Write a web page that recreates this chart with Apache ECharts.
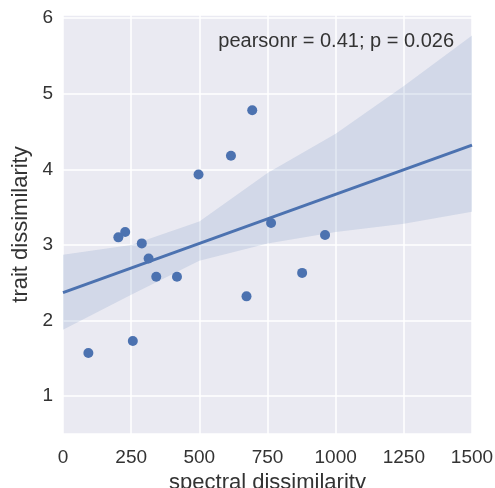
<!DOCTYPE html>
<html>
<head>
<meta charset="utf-8">
<script src="https://cdn.jsdelivr.net/npm/echarts@6/dist/echarts.min.js"></script>
<style>
  html, body { margin: 0; padding: 0; background: #fff; }
  #chart { width: 495px; height: 488px; }
</style>
</head>
<body>
<div id="chart"></div>
<script>
// scatter points
var spectral = [93, 203, 228, 256, 289, 314, 342, 418, 497, 616, 673, 694, 763, 877, 961]
var trait = [1.57, 3.10, 3.17, 1.73, 3.02, 2.82, 2.58, 2.58, 3.93, 4.18, 2.32, 4.78, 3.29, 2.63, 3.13]

// regression line ends
var fitX = [0, 1500]
var fitY = [2.37, 4.32]

// confidence band
var bandX = [0, 250, 500, 750, 1000, 1250, 1500]
var bandLow = [1.88, 2.34, 2.79, 3.02, 3.17, 3.28, 3.44]
var bandHigh = [2.87, 3.0, 3.31, 3.95, 4.47, 5.1, 5.77]

var xTicks = [0, 250, 500, 750, 1000, 1250, 1500]

var blue = '#4C72B0'
var textColor = '#333'
var font = 'Liberation Sans, Arial, sans-serif'

var chart = echarts.init(document.getElementById('chart'))

chart.setOption({
  animation: false,
  backgroundColor: '#fff',
  grid: {
    left: 63, right: 23, top: 15, bottom: 54,
    containLabel: false, outerBoundsMode: 'none',
    backgroundColor: '#EAEAF2', show: true, borderWidth: 0
  },
  xAxis: {
    type: 'value',
    min: xTicks[0],
    max: xTicks[xTicks.length - 1],
    interval: 250,
    name: 'spectral dissimilarity',
    nameLocation: 'middle',
    nameGap: 27,
    nameTextStyle: { color: textColor, fontSize: 22, fontFamily: font },
    axisLine: { show: false },
    axisTick: { show: false },
    axisLabel: { color: textColor, fontSize: 19, fontFamily: font, margin: 14, formatter: function (v) { return String(v) } },
    splitLine: { lineStyle: { color: '#fff', width: 1.5 } }
  },
  yAxis: {
    type: 'value',
    min: 0.5,
    max: 6.04,
    splitNumber: 5,
    name: 'trait dissimilarity',
    nameLocation: 'middle',
    nameGap: 28,
    nameTextStyle: { color: textColor, fontSize: 22, fontFamily: font },
    axisLine: { show: false },
    axisTick: { show: false },
    axisLabel: { color: textColor, fontSize: 19, fontFamily: font, margin: 10, showMinLabel: false, showMaxLabel: false },
    splitLine: { lineStyle: { color: '#fff', width: 1.5 } }
  },
  graphic: [{
    type: 'text',
    right: 41,
    top: 31,
    z: 100,
    style: { text: 'pearsonr = 0.41; p = 0.026', fill: textColor, fontSize: 20, fontFamily: font }
  }],
  series: [
    {
      type: 'custom',
      data: [0],
      silent: true,
      z: 1,
      renderItem: function (params, api) {
        var pts = []
        for (var i = 0; i < bandX.length; i++) pts.push(api.coord([bandX[i], bandHigh[i]]))
        for (var j = bandX.length - 1; j >= 0; j--) pts.push(api.coord([bandX[j], bandLow[j]]))
        return {
          type: 'polygon',
          shape: { points: pts },
          style: { fill: blue, opacity: 0.15 }
        }
      }
    },
    {
      type: 'line',
      data: fitX.map(function (x, i) { return [x, fitY[i]] }),
      symbol: 'none',
      z: 2,
      lineStyle: { color: blue, width: 3 }
    },
    {
      type: 'scatter',
      data: spectral.map(function (x, i) { return [x, trait[i]] }),
      symbolSize: 10,
      z: 3,
      itemStyle: { color: blue, opacity: 1 }
    }
  ]
})
</script>
</body>
</html>
